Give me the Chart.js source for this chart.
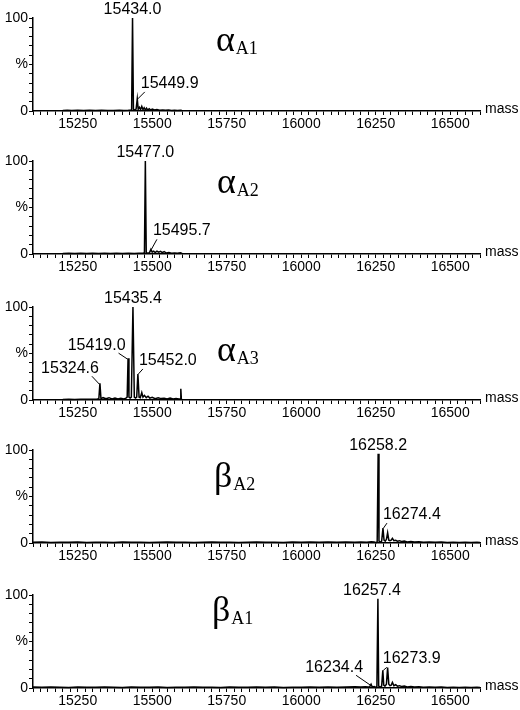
<!DOCTYPE html>
<html>
<head>
<meta charset="utf-8">
<script src="https://cdn.jsdelivr.net/npm/chart.js@4.4.1/dist/chart.umd.min.js"></script>
<style>
  html, body { margin: 0; padding: 0; background: #fff; }
  #wrap { position: relative; width: 520px; height: 710px; overflow: hidden; }
  .panel { position: absolute; left: 0; width: 520px; height: 135px; }
</style>
</head>
<body>
<div id="wrap">
  <div class="panel" style="top:0px"><canvas id="c1" width="520" height="135"></canvas></div>
  <div class="panel" style="top:143px"><canvas id="c2" width="520" height="135"></canvas></div>
  <div class="panel" style="top:289px"><canvas id="c3" width="520" height="135"></canvas></div>
  <div class="panel" style="top:432px"><canvas id="c4" width="520" height="135"></canvas></div>
  <div class="panel" style="top:577px"><canvas id="c5" width="520" height="135"></canvas></div>
</div>
<script>
// ----------------------------------------
// Data (mass / relative intensity %)
// ----------------------------------------
const massRange = [15100, 16600];
const massTickLabels = [15250, 15500, 15750, 16000, 16250, 16500];
const yTickLabels = { 0: '0', 50: '%', 100: '100' };

// alpha A1
const a1Mass = [15200, 15215, 15230, 15250, 15270, 15290, 15310, 15330, 15350, 15370, 15390, 15405, 15420, 15428, 15431, 15434, 15437, 15441, 15446, 15449.9, 15453, 15457, 15461, 15465, 15469, 15473, 15477, 15481, 15485, 15490, 15495, 15500, 15508, 15516, 15525, 15535, 15545, 15555, 15565, 15575, 15585, 15595, 15600];
const a1Int = [0.5, 0.8, 0.6, 0.7, 0.5, 0.8, 0.6, 0.7, 0.5, 0.6, 0.8, 0.5, 0.7, 0.9, 1.5, 100, 2, 1, 2, 13, 2, 4, 1.5, 5, 1.5, 3.5, 1, 3, 1, 2.5, 1, 2, 1, 1.5, 0.8, 1.2, 0.7, 1, 0.6, 0.9, 0.6, 0.8, 0.5];
const a1Peaks = ['15434.0', '15449.9'];

// alpha A2
const a2Mass = [15200, 15220, 15240, 15260, 15280, 15300, 15320, 15340, 15360, 15380, 15400, 15420, 15440, 15455, 15468, 15474, 15477, 15480, 15486, 15491, 15495.7, 15500, 15505, 15510, 15516, 15522, 15528, 15534, 15540, 15548, 15556, 15565, 15575, 15585, 15595, 15600];
const a2Int = [0.6, 0.9, 0.5, 0.8, 0.6, 0.7, 0.5, 0.8, 0.6, 0.7, 0.5, 0.8, 0.6, 0.9, 0.7, 1.5, 100, 1.5, 0.8, 1.5, 5, 2, 3, 1.5, 3, 2, 2.8, 1.5, 2.5, 1, 1.5, 0.8, 1.2, 0.7, 1.4, 0.6];
const a2Peaks = ['15477.0', '15495.7'];

// alpha A3
const a3Mass = [15200, 15220, 15240, 15260, 15280, 15300, 15315, 15321, 15324.6, 15328, 15335, 15345, 15355, 15365, 15375, 15385, 15395, 15405, 15412, 15416, 15419, 15422, 15426, 15430, 15435.4, 15440, 15444, 15448, 15452, 15456, 15460, 15465, 15469, 15474, 15480, 15486, 15492, 15500, 15510, 15520, 15530, 15540, 15550, 15560, 15570, 15580, 15590, 15594, 15596, 15598];
const a3Int = [0.5, 0.8, 0.6, 0.9, 0.7, 0.8, 1, 1.5, 18, 1.5, 2.5, 1.5, 2.5, 1.2, 2, 1, 1.8, 1.2, 2, 3, 45, 3, 2, 3, 100, 3, 2, 3, 28, 3, 2.5, 8, 3, 5, 2.5, 4, 2, 3, 1.5, 2.5, 1.5, 2, 1.2, 2, 1, 1.5, 1, 1.2, 12, 0.5];
const a3Peaks = ['15435.4', '15419.0', '15452.0', '15324.6'];

// beta A2
const b2Mass = [15100, 15130, 15160, 15190, 15220, 15250, 15280, 15310, 15340, 15370, 15400, 15430, 15460, 15490, 15520, 15550, 15580, 15610, 15640, 15670, 15700, 15730, 15760, 15790, 15820, 15850, 15880, 15910, 15940, 15970, 16000, 16030, 16060, 16090, 16120, 16150, 16180, 16200, 16220, 16235, 16245, 16252, 16255, 16258.2, 16261, 16266, 16270, 16274.4, 16278, 16282, 16286, 16290, 16294, 16298, 16302, 16306, 16311, 16317, 16323, 16330, 16338, 16346, 16356, 16368, 16380, 16395, 16410, 16430, 16450, 16470, 16490, 16510, 16530, 16550, 16570, 16590, 16600];
const b2Int = [0.8, 1.0, 0.6, 0.9, 0.7, 1.1, 0.6, 0.9, 0.8, 0.6, 1.0, 0.7, 0.9, 0.6, 0.8, 1.0, 0.7, 0.9, 0.6, 0.8, 1.1, 0.7, 0.9, 0.6, 0.8, 1.0, 0.7, 0.9, 0.6, 1.0, 0.8, 1.2, 0.7, 1.0, 0.8, 1.2, 0.9, 1.2, 0.9, 1.3, 1, 0.3, 1.5, 96, 2, 1, 2, 16, 3, 2, 4, 11, 3, 2.5, 3, 5, 2.5, 3, 2, 2.5, 1.5, 2, 1.2, 1.6, 1, 1.4, 0.8, 1.2, 0.7, 1, 0.6, 0.9, 0.6, 0.8, 0.5, 0.7, 0.5];
const b2Peaks = ['16258.2', '16274.4'];

// beta A1
const b1Mass = [15100, 15130, 15160, 15190, 15220, 15250, 15280, 15310, 15340, 15370, 15400, 15430, 15460, 15490, 15520, 15550, 15580, 15610, 15640, 15670, 15700, 15730, 15760, 15790, 15820, 15850, 15880, 15910, 15940, 15970, 16000, 16030, 16060, 16090, 16120, 16150, 16180, 16200, 16215, 16225, 16230, 16234.4, 16238, 16245, 16251, 16254, 16257.4, 16260, 16265, 16270, 16273.9, 16277, 16281, 16286, 16290, 16294, 16298, 16302, 16306, 16311, 16317, 16323, 16330, 16338, 16346, 16356, 16368, 16380, 16395, 16410, 16430, 16450, 16470, 16490, 16510, 16530, 16550, 16570, 16590, 16600];
const b1Int = [1.0, 0.7, 1.1, 0.8, 0.6, 1.0, 0.8, 0.7, 1.1, 0.9, 0.6, 1.0, 0.8, 0.7, 1.0, 0.6, 0.9, 0.8, 1.1, 0.7, 0.9, 0.6, 1.0, 0.8, 0.7, 1.1, 0.8, 1.0, 0.6, 0.9, 0.8, 1.1, 0.8, 1.2, 0.9, 1.0, 1.3, 1, 1.4, 1, 1.5, 4, 1.2, 1.5, 0.5, 1.5, 96, 2, 1, 2, 19, 3, 2, 4, 22, 4, 2.5, 3, 6, 2.5, 3.5, 2, 2.5, 1.5, 2, 1.2, 1.6, 1, 1.3, 0.8, 1.1, 0.7, 1, 0.6, 0.9, 0.6, 0.8, 0.5, 0.7, 0.5];
const b1Peaks = ['16257.4', '16273.9', '16234.4'];

// ----------------------------------------
// Panel layout (label placement, greek tags)
// ----------------------------------------
const panels = [
  { id: 'c1', mass: a1Mass, int: a1Int, peaks: a1Peaks,
    place: [{ pos: 'top', dx: 0 }, { pos: 'right', dx: 3.5, dy: -11 }],
    greek: { sym: 'α', sub: 'A1', x: 216, y: 51 } },
  { id: 'c2', mass: a2Mass, int: a2Int, peaks: a2Peaks,
    place: [{ pos: 'top', dx: 0 }, { pos: 'right', dx: 2, dy: -14 }],
    greek: { sym: 'α', sub: 'A2', x: 217, y: 50 } },
  { id: 'c3', mass: a3Mass, int: a3Int, peaks: a3Peaks,
    place: [{ pos: 'top', dx: 0 }, { pos: 'left', dx: -2.5, dy: -8 },
            { pos: 'right', dx: 1, dy: -9 }, { pos: 'left', dx: -1, dy: -10 }],
    greek: { sym: 'α', sub: 'A3', x: 217, y: 72 } },
  { id: 'c4', mass: b2Mass, int: b2Int, peaks: b2Peaks,
    place: [{ pos: 'top', dx: 0 }, { pos: 'right', dx: 0, dy: -9 }],
    greek: { sym: 'β', sub: 'A2', x: 214, y: 55 } },
  { id: 'c5', mass: b1Mass, int: b1Int, peaks: b1Peaks,
    place: [{ pos: 'top', dx: -6 }, { pos: 'right', dx: 0, dy: -7 }, { pos: 'left', dx: -8, dy: -12 }],
    greek: { sym: 'β', sub: 'A1', x: 212, y: 44 } },
];

const SANS = '"Liberation Sans", Arial, sans-serif';
const SERIF = '"Liberation Serif", "Times New Roman", serif';
Chart.defaults.font.family = SANS;
Chart.defaults.color = '#000';

// ----------------------------------------
// Plugin: peak labels, leaders, greek tag, "mass"
// ----------------------------------------
const spectrumLabels = {
  id: 'spectrumLabels',
  afterDatasetsDraw(chart, args, opts) {
    const { ctx, chartArea, scales: { x, y } } = chart;
    ctx.save();
    ctx.fillStyle = '#000';
    ctx.strokeStyle = '#000';
    ctx.lineWidth = 1;

    // peak labels
    ctx.font = '16px ' + SANS;
    opts.peaks.forEach((label, k) => {
      const m = parseFloat(label);
      let idx = opts.mass.indexOf(m);
      if (idx < 0) {
        idx = 0;
        opts.mass.forEach((v, i) => { if (Math.abs(v - m) < Math.abs(opts.mass[idx] - m)) idx = i; });
      }
      const px = x.getPixelForValue(m);
      const py = y.getPixelForValue(opts.int[idx]);
      const p = opts.place[k];
      ctx.textBaseline = 'alphabetic';
      if (p.pos === 'top') {
        ctx.textAlign = 'center';
        ctx.fillText(label, px + p.dx, py - 4);
      } else if (p.pos === 'right') {
        const tx = px + p.dx, ty = py + p.dy;
        ctx.textAlign = 'left';
        ctx.fillText(label, tx, ty);
        ctx.beginPath();
        ctx.moveTo(px + 0.5, py);
        ctx.lineTo(tx + 4, ty + 4);
        ctx.stroke();
      } else {
        const tx = px + p.dx, ty = py + p.dy;
        ctx.textAlign = 'right';
        ctx.fillText(label, tx, ty);
        ctx.beginPath();
        ctx.moveTo(tx - 7, ty + 3);
        ctx.lineTo(px - 0.5, py + 1);
        ctx.stroke();
      }
    });

    // greek tag with subscript
    const g = opts.greek;
    ctx.textAlign = 'left';
    ctx.font = '36px ' + SERIF;
    ctx.fillText(g.sym, g.x, g.y);
    const w = ctx.measureText(g.sym).width;
    ctx.font = '18px ' + SERIF;
    ctx.fillText(g.sub, g.x + w + 1, g.y + 3);

    // axis name
    ctx.font = '14px ' + SANS;
    ctx.textBaseline = 'middle';
    ctx.fillText('mass', chartArea.right + 5, chartArea.bottom - 2);
    ctx.restore();
  }
};

// ----------------------------------------
// Build the five spectra
// ----------------------------------------
panels.forEach(p => {
  new Chart(document.getElementById(p.id), {
    type: 'line',
    data: {
      datasets: [{
        data: p.mass.map((m, i) => ({ x: m, y: p.int[i] })),
        borderColor: '#000',
        borderWidth: 1.5,
        pointRadius: 0,
        tension: 0,
        clip: false,
      }]
    },
    options: {
      responsive: false,
      animation: false,
      devicePixelRatio: 1,
      layout: { padding: { left: 0, right: 40, top: 18, bottom: 0 } },
      plugins: {
        legend: { display: false },
        tooltip: { enabled: false },
        spectrumLabels: { mass: p.mass, int: p.int, peaks: p.peaks, place: p.place, greek: p.greek }
      },
      scales: {
        x: {
          type: 'linear',
          min: massRange[0],
          max: massRange[1],
          afterFit: s => { s.height = 24; },
          border: { color: '#000', width: 1.5 },
          grid: { drawOnChartArea: false, tickLength: 4, color: '#000', tickWidth: 1 },
          ticks: {
            stepSize: 25,
            autoSkip: false,
            maxRotation: 0,
            padding: 1,
            color: '#000',
            font: { size: 14 },
            callback: v => massTickLabels.includes(v) ? String(v) : ''
          }
        },
        y: {
          min: 0,
          max: 100,
          afterFit: s => { s.width = 33; },
          border: { color: '#000', width: 1.5 },
          grid: { drawOnChartArea: false, tickLength: 4, color: '#000', tickWidth: 1 },
          ticks: {
            stepSize: 10,
            autoSkip: false,
            padding: 1,
            color: '#000',
            font: { size: 14 },
            callback: v => yTickLabels[v] !== undefined ? yTickLabels[v] : ''
          }
        }
      }
    },
    plugins: [spectrumLabels]
  });
});
</script>
</body>
</html>
